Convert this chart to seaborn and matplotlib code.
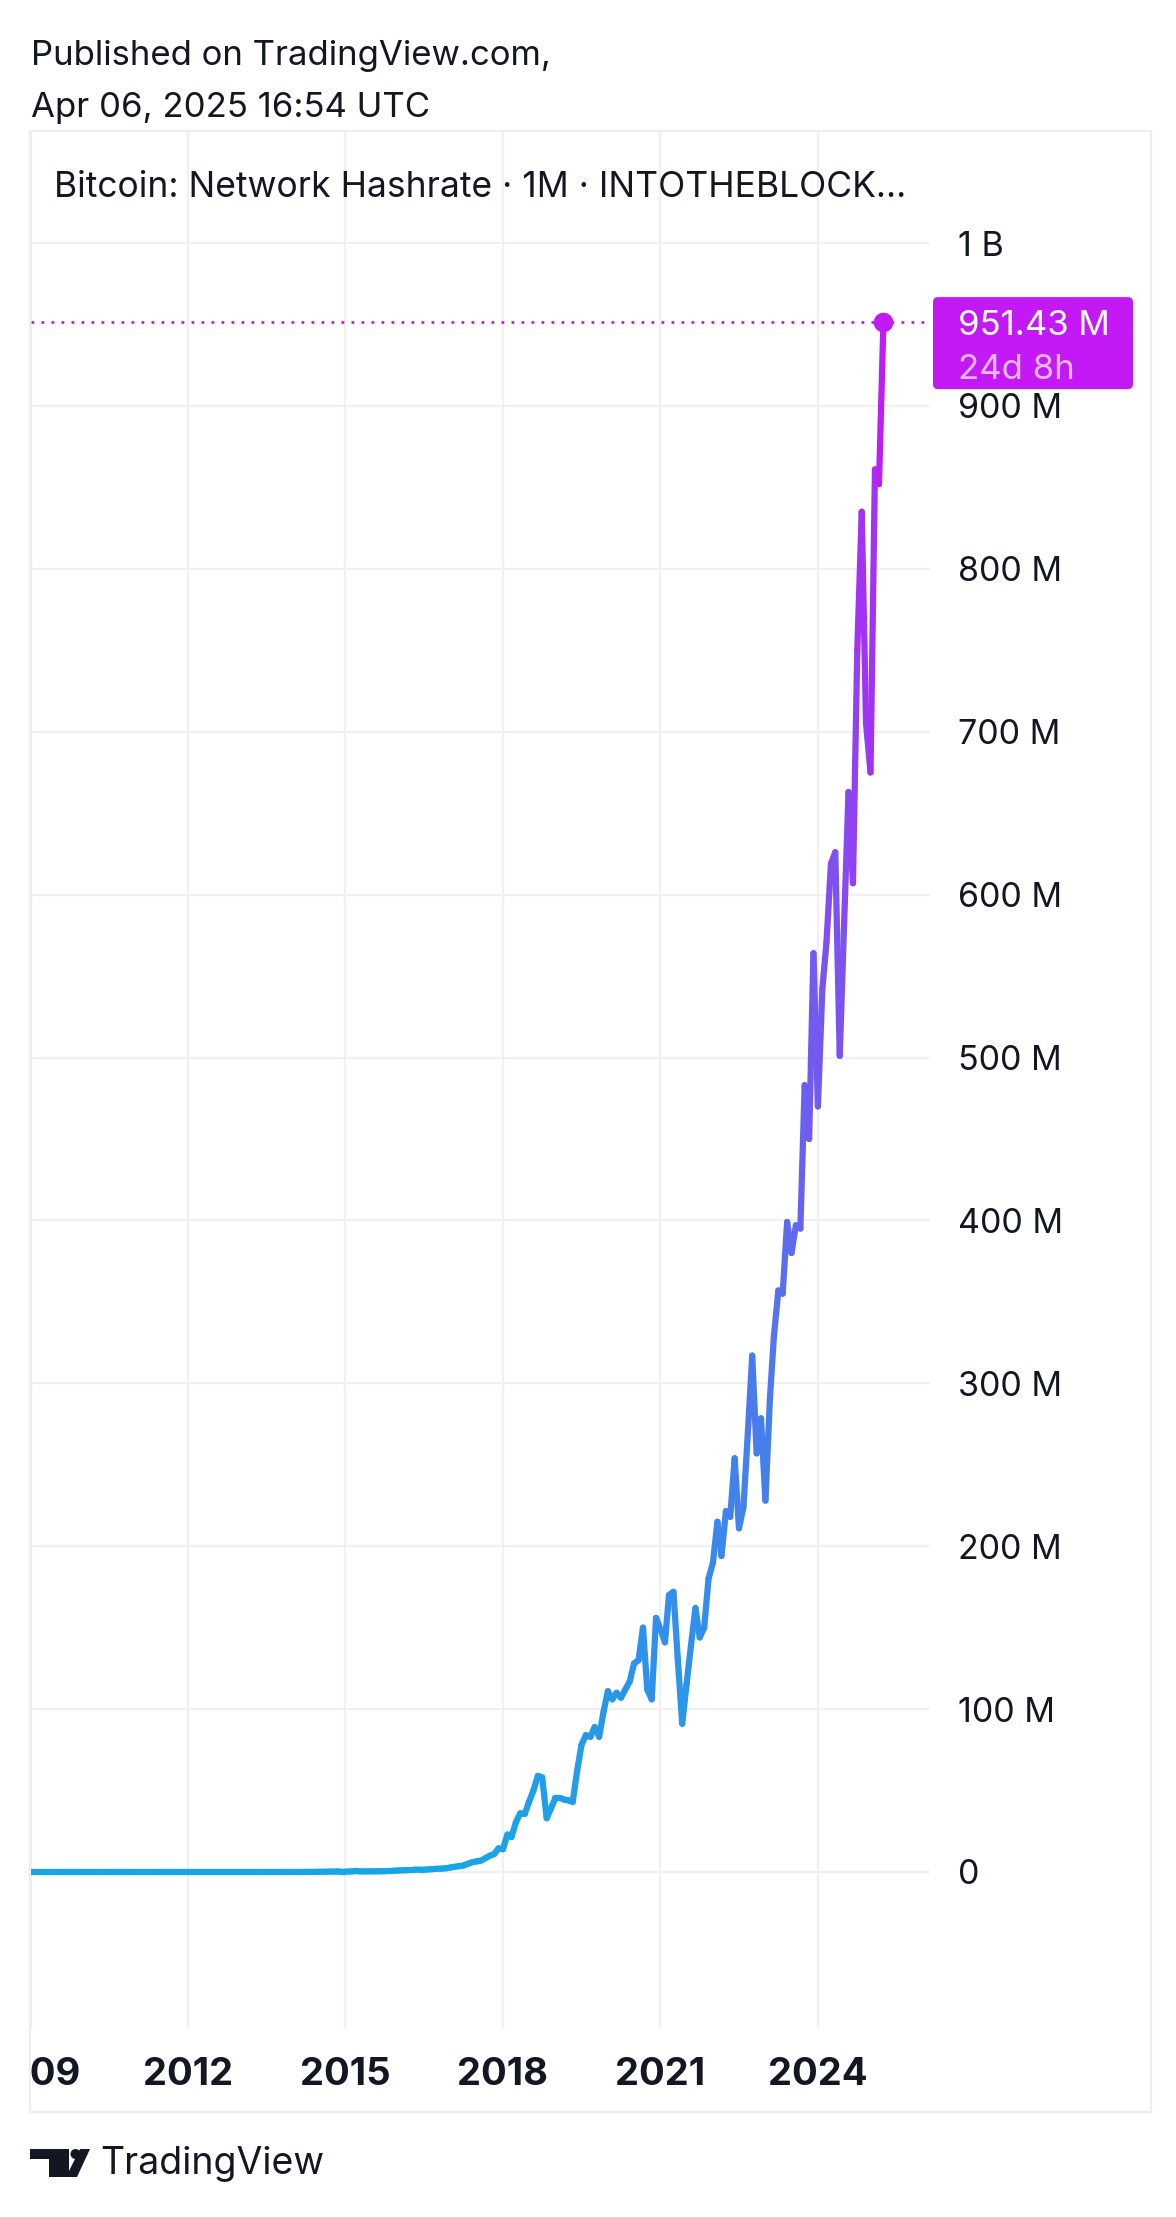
import numpy as np
import pandas as pd
import matplotlib
matplotlib.use("Agg")
import matplotlib.pyplot as plt
import matplotlib.dates as mdates
from matplotlib.collections import LineCollection
from matplotlib.patches import Rectangle, FancyBboxPatch, Polygon, Circle
from matplotlib.transforms import IdentityTransform
import seaborn as sns

# ---------------- data (Bitcoin network hashrate, monthly, in millions) ----------------
hr_2009 = [0.0, 0.0, 0.0, 0.0, 0.0, 0.0, 0.0, 0.0, 0.0, 0.0, 0.0, 0.0]
hr_2010 = [0.0, 0.0, 0.0, 0.0, 0.0, 0.0, 0.0, 0.0, 0.0, 0.0, 0.0, 0.0]
hr_2011 = [0.0, 0.0, 0.0, 0.0, 0.0, 0.0, 0.0, 0.0, 0.0, 0.0, 0.0, 0.0]
hr_2012 = [0.0, 0.0, 0.0, 0.0, 0.0, 0.0, 0.0, 0.0, 0.0, 0.0, 0.0, 0.0]
hr_2013 = [0.00003, 0.00004, 0.00005, 0.00007, 0.0001, 0.0001, 0.0002, 0.0005, 0.001, 0.002, 0.004, 0.008]
hr_2014 = [0.012, 0.02, 0.03, 0.045, 0.06, 0.08, 0.12, 0.15, 0.2, 0.25, 0.28, 0.3]
hr_2015 = [0.3, 0.33, 0.35, 0.35, 0.37, 0.38, 0.4, 0.43, 0.46, 0.5, 0.6, 0.75]
hr_2016 = [0.9, 1.0, 1.1, 1.2, 1.4, 1.5, 1.5, 1.6, 1.8, 2.0, 2.1, 2.3]
hr_2017 = [2.8, 3.2, 3.6, 4.0, 5.0, 6.0, 6.5, 7.0, 8.5, 10.0, 11.0, 14.5]
hr_2018 = [14.0, 23.0, 21.5, 30.5, 36.0, 35.6, 43.0, 50.0, 59.0, 58.0, 33.0, 39.0]
hr_2019 = [45.5, 45.5, 44.5, 44.0, 43.0, 62.0, 78.0, 84.0, 83.0, 89.0, 83.0, 98.0]
hr_2020 = [111, 106, 110, 107, 112, 117, 128, 130, 150, 112, 106, 156]
hr_2021 = [149, 141, 170, 172, 131, 91, 115, 139, 162, 144, 150, 180]
hr_2022 = [190, 215, 194, 221.5, 218, 254, 211, 224, 270, 317, 257, 278.5]
hr_2023 = [228, 290, 329, 357, 355, 399, 380, 397, 395, 483, 450, 564]
hr_2024 = [470, 542, 571, 619, 626, 501, 581, 663, 607, 750, 835, 705]
hr_2025 = [675, 861, 852, 951.43]

first_month = "2009-01-01"
year_ticks = [2009, 2012, 2015, 2018, 2021, 2024]
y_ticks = [0, 100, 200, 300, 400, 500, 600, 700, 800, 900, 1000]
y_tick_labels = ["0", "100 M", "200 M", "300 M", "400 M", "500 M",
                 "600 M", "700 M", "800 M", "900 M", "1 B"]
header_line1 = "Published on TradingView.com,"
header_line2 = "Apr 06, 2025 16:54 UTC"
title_text = "Bitcoin: Network Hashrate · 1M · INTOTHEBLOCK..."
last_label = "951.43 M"
countdown_label = "24d 8h"

values = (hr_2009 + hr_2010 + hr_2011 + hr_2012 + hr_2013 + hr_2014 + hr_2015 +
          hr_2016 + hr_2017 + hr_2018 + hr_2019 + hr_2020 + hr_2021 + hr_2022 +
          hr_2023 + hr_2024 + hr_2025)
dates = pd.date_range(first_month, periods=len(values), freq="MS")
df = pd.DataFrame({"date": dates, "hashrate": values})

# ---------------- style ----------------
sns.set_theme(style="white")
plt.rcParams["font.family"] = ["Inter", "Roboto", "DejaVu Sans"]
TXT = "#131722"
GRID = "#F0F0F0"
C0 = np.array([22, 166, 232]) / 255.0
C1 = np.array([196, 24, 246]) / 255.0
MAG = "#C31AF5"
LW = 4.5

W, H = 1176, 2217
fig = plt.figure(figsize=(W / 100, H / 100), dpi=100)
fig.patch.set_facecolor("white")


def fx(px):
    return px / W


def fy(py):
    return 1 - py / H


PL, PR, PT, PB = 30.5, 930.0, 131.0, 2028.0
ax = fig.add_axes([fx(PL), fy(PB), fx(PR) - fx(PL), fy(PT) - fy(PB)])
ax.set_facecolor("white")

# pixel scale: 0 at y=1872, 1B at y=243
px_per_m = (1872 - 243) / 1000.0
ax.set_ylim((1872 - PB) / px_per_m, (1872 - PT) / px_per_m)
x0 = mdates.date2num(pd.Timestamp("2009-01-01"))
px_per_day = 52.5 / 365.25
ax.set_xlim(x0, x0 + (PR - PL) / px_per_day)

# seaborn line, then recoloured with a value gradient
sns.lineplot(data=df, x="date", y="hashrate", ax=ax, color=C0, linewidth=LW)
base = ax.lines[-1]
xy = base.get_xydata()
base.set_visible(False)
pts = xy.reshape(-1, 1, 2)
segs = np.concatenate([pts[:-1], pts[1:]], axis=1)
mid = (xy[:-1, 1] + xy[1:, 1]) / 2.0
t = np.clip(mid / max(values), 0, 1)[:, None]
cols = C0 * (1 - t) + C1 * t
lc = LineCollection(segs, colors=cols, linewidths=LW, capstyle="round",
                    joinstyle="round", zorder=4)
ax.add_collection(lc)

# last value marker and dotted price line
last_x = xy[-1, 0]
last_v = values[-1]
ax.axhline(last_v, color=MAG, lw=2.0, ls=(0, (1.0, 2.6)), zorder=3)
ax.scatter([last_x], [last_v], s=200, color=MAG, zorder=5, linewidths=0)

# grid
ax.set_yticks(y_ticks)
ax.set_yticklabels(y_tick_labels)
ax.set_xticks([mdates.date2num(pd.Timestamp(f"{y}-01-01")) for y in year_ticks])
ax.grid(True, color=GRID, linewidth=1.6)
ax.yaxis.tick_right()
ax.tick_params(axis="y", length=0, pad=20, labelsize=24.5, labelcolor=TXT)
ax.tick_params(axis="x", length=0, labelbottom=False)
for s in ax.spines.values():
    s.set_visible(False)
ax.set_xlabel("")
ax.set_ylabel("")
if ax.get_legend():
    ax.get_legend().remove()

# time scale strip with clipped labels
axt = fig.add_axes([fx(PL), fy(2112), fx(PR) - fx(PL), fy(PB) - fy(2112)])
axt.set_xlim(ax.get_xlim())
axt.set_ylim(0, 1)
axt.axis("off")
for y in year_ticks:
    axt.text(mdates.date2num(pd.Timestamp(f"{y}-01-01")), (2112 - 2085) / 84.0, str(y),
             ha="center", va="baseline", fontsize=27.5, fontweight="bold",
             color=TXT, clip_on=True)

# pane border
fig.add_artist(Rectangle((fx(30), fy(2112)), fx(1151) - fx(30), fy(131) - fy(2112),
                         transform=fig.transFigure, fill=False, ec="#EDEDED", lw=1.5))

# header and title
fig.text(fx(31), fy(65), header_line1, fontsize=25, color=TXT, va="baseline")
fig.text(fx(31), fy(117), header_line2, fontsize=25, color=TXT, va="baseline")
fig.text(fx(54), fy(197), title_text, fontsize=25.5, color=TXT, va="baseline")

# price label box tied to last value
_, yv = ax.transData.transform((last_x, last_v))
box = FancyBboxPatch((933, yv - 67), 200, 92,
                     boxstyle="round,pad=0,rounding_size=5",
                     transform=IdentityTransform(), fc=MAG, ec="none")
fig.add_artist(box)
fig.text(fx(958), yv / H, last_label, fontsize=25, color="white",
         va="center_baseline", ha="left")
fig.text(fx(958), (yv - 44) / H, countdown_label, fontsize=25, color="#EBB8F9",
         va="center_baseline", ha="left")

# TradingView logo
fig.add_artist(Polygon([(fx(30), fy(2149)), (fx(69), fy(2149)), (fx(69), fy(2177)),
                        (fx(49), fy(2177)), (fx(49), fy(2159)), (fx(30), fy(2159))],
                       closed=True, transform=fig.transFigure, fc=TXT, ec="none"))
fig.add_artist(Circle((75.5, H - 2154), 5.0, transform=IdentityTransform(), fc=TXT, ec="none"))
fig.add_artist(Polygon([(fx(80), fy(2149)), (fx(90), fy(2149)), (fx(77), fy(2177)),
                        (fx(66), fy(2177))],
                       closed=True, transform=fig.transFigure, fc=TXT, ec="none"))
fig.text(fx(100), fy(2174), "TradingView", fontsize=27, color=TXT, va="baseline")

fig.savefig("out.png", dpi=100, facecolor="white")
